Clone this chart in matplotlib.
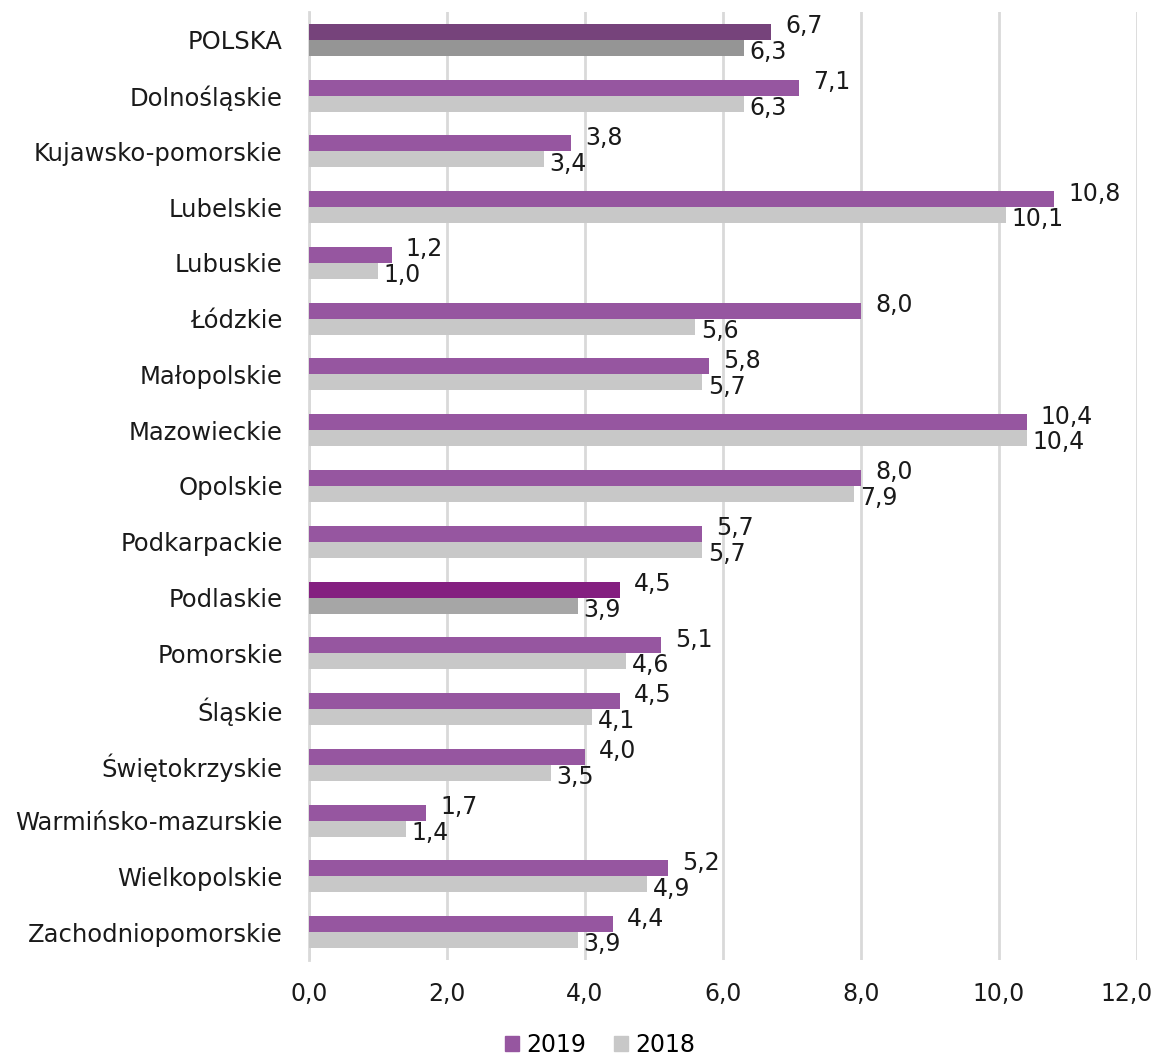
import matplotlib
matplotlib.use('Agg')
import matplotlib.pyplot as plt
import matplotlib.transforms as mtrans
import numpy as np
from matplotlib.patches import Patch

regions = ['POLSKA', 'Dolnośląskie', 'Kujawsko-pomorskie', 'Lubelskie', 'Lubuskie',
           'Łódzkie', 'Małopolskie', 'Mazowieckie', 'Opolskie', 'Podkarpackie',
           'Podlaskie', 'Pomorskie', 'Śląskie', 'Świętokrzyskie',
           'Warmińsko-mazurskie', 'Wielkopolskie', 'Zachodniopomorskie']
v2019 = [6.7, 7.1, 3.8, 10.8, 1.2, 8.0, 5.8, 10.4, 8.0, 5.7, 4.5, 5.1, 4.5, 4.0, 1.7, 5.2, 4.4]
v2018 = [6.3, 6.3, 3.4, 10.1, 1.0, 5.6, 5.7, 10.4, 7.9, 5.7, 3.9, 4.6, 4.1, 3.5, 1.4, 4.9, 3.9]

plt.rcParams['font.family'] = ['DejaVu Sans']
txt_col = '#1a1a1a'

c19 = ['#9656A0'] * len(regions)
c18 = ['#C8C8C8'] * len(regions)
c19[0], c18[0] = '#76437B', '#959595'
c19[10], c18[10] = '#841F80', '#A6A6A6'

fig = plt.figure(figsize=(11.54, 10.61), dpi=100)
ax = fig.add_axes([0.2678, 0.0952, 0.7175, 0.8935])

y = np.arange(len(regions))
h = 0.287
ax.barh(y - h / 2, v2019, height=h, color=c19, zorder=3)
ax.barh(y + h / 2, v2018, height=h, color=c18, zorder=3)

fmt = lambda v: f'{v:.1f}'.replace('.', ',')
for yi, a, b in zip(y, v2019, v2018):
    ax.annotate(fmt(a), (a, yi - h / 2), xytext=(10, 4),
                textcoords='offset points', ha='left', va='center', fontsize=17, color=txt_col)
    ax.annotate(fmt(b), (b, yi + h / 2), xytext=(4, -3),
                textcoords='offset points', ha='left', va='center', fontsize=17, color=txt_col)

ax.set_ylim(len(regions) - 0.5, -0.5)
ax.set_xlim(0, 12)
ax.set_yticks(y)
ax.set_yticklabels(regions, fontsize=17.5, color=txt_col)
ticks = np.arange(0, 13, 2)
ax.set_xticks(ticks)
ax.set_xticklabels([fmt(t) for t in ticks], fontsize=17, color=txt_col)
ax.tick_params(length=0)
ax.tick_params(axis='x', pad=16)
ax.tick_params(axis='y', pad=19)
# last tick label sits a little left so it stays inside the figure
last = ax.get_xticklabels()[-1]
last.set_transform(last.get_transform() + mtrans.ScaledTranslation(-10 / 100, 0, fig.dpi_scale_trans))

ax.grid(axis='x', color='#D9D9D9', linewidth=2, zorder=0)
for s in ['top', 'right', 'bottom']:
    ax.spines[s].set_visible(False)
ax.spines['left'].set_color('#D9D9D9')
ax.spines['left'].set_linewidth(2)

handles = [Patch(color='#9656A0', label='2019'), Patch(color='#C8C8C8', label='2018')]
fig.legend(handles=handles, loc='lower center', bbox_to_anchor=(0.52, -0.016), ncol=2,
           frameon=False, fontsize=17, handlelength=0.6, handleheight=0.6,
           handletextpad=0.3, columnspacing=1.2)

fig.savefig('out.png', dpi=100)
